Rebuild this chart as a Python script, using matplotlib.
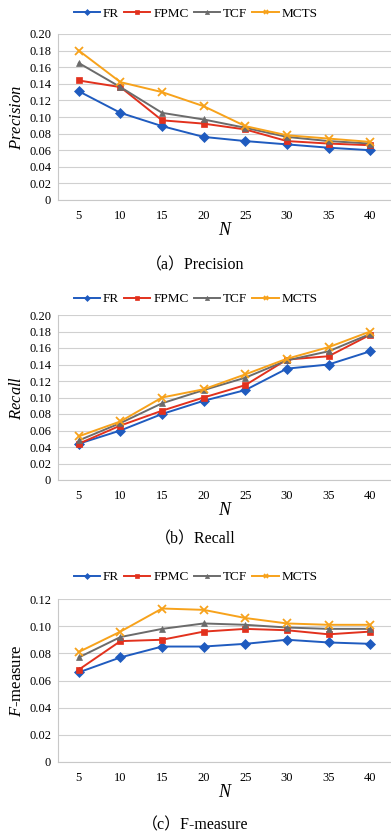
import numpy as np
import matplotlib.pyplot as plt

N = [5, 10, 15, 20, 25, 30, 35, 40]
metodos = ['FR', 'FPMC', 'TCF', 'MCTS']

precision_fr = [0.131, 0.105, 0.089, 0.076, 0.071, 0.067, 0.063, 0.060]
precision_fpmc = [0.144, 0.136, 0.096, 0.092, 0.085, 0.071, 0.068, 0.066]
precision_tcf = [0.165, 0.136, 0.105, 0.097, 0.087, 0.076, 0.071, 0.068]
precision_mcts = [0.180, 0.142, 0.130, 0.113, 0.089, 0.078, 0.074, 0.070]

recall_fr = [0.044, 0.060, 0.080, 0.096, 0.109, 0.135, 0.140, 0.156]
recall_fpmc = [0.044, 0.066, 0.084, 0.100, 0.115, 0.146, 0.150, 0.176]
recall_tcf = [0.048, 0.069, 0.093, 0.109, 0.124, 0.145, 0.156, 0.177]
recall_mcts = [0.053, 0.071, 0.100, 0.110, 0.128, 0.147, 0.161, 0.180]

fm_fr = [0.066, 0.077, 0.085, 0.085, 0.087, 0.090, 0.088, 0.087]
fm_fpmc = [0.068, 0.089, 0.090, 0.096, 0.098, 0.097, 0.094, 0.096]
fm_tcf = [0.077, 0.092, 0.098, 0.102, 0.101, 0.099, 0.098, 0.098]
fm_mcts = [0.081, 0.096, 0.113, 0.112, 0.106, 0.102, 0.101, 0.101]

colores = ['#1f5bbf', '#e2311d', '#6b6b6b', '#f7a21b']
marcadores = ['D', 's', '^', 'x']

serif = ['Liberation Serif', 'Noto Sans CJK SC']
plt.rcParams['font.family'] = serif
plt.rcParams['mathtext.fontset'] = 'custom'
plt.rcParams['mathtext.it'] = 'Liberation Serif:italic'
plt.rcParams['mathtext.rm'] = 'Liberation Serif'

W, H = 391, 836
fig = plt.figure(figsize=(W / 100, H / 100), dpi=100)


def panel(top, bottom, series, ymax, ylabel, caption, ycap, yleg):
    ax = fig.add_axes([58 / W, 1 - bottom / H, (391 - 58) / W, (bottom - top) / H])
    idx = np.arange(len(N))
    for i, s in enumerate(series):
        ms = 5 if marcadores[i] != 'x' else 6
        ax.plot(idx, s, color=colores[i], marker=marcadores[i], markersize=ms,
                linewidth=1.4, markeredgewidth=1.3 if marcadores[i] == 'x' else 0.5,
                label=metodos[i], clip_on=False)
    ax.set_xlim(-0.5, len(N) - 0.5)
    ax.set_ylim(0, ymax)
    ticks = np.arange(0, ymax + 0.001, 0.02)
    ax.set_yticks(ticks)
    ax.set_yticklabels(['0' if t == 0 else '%.2f' % t for t in ticks], fontsize=9)
    ax.set_xticks(idx)
    ax.set_xticklabels([str(n) for n in N], fontsize=9)
    ax.tick_params(length=0, pad=5)
    ax.tick_params(axis='x', pad=7)
    ax.grid(axis='y', color='#d0d0d0', linewidth=0.8)
    ax.set_axisbelow(True)
    for lado in ['top', 'right']:
        ax.spines[lado].set_visible(False)
    ax.spines['left'].set_color('#c8c8c8')
    ax.spines['bottom'].set_color('#c8c8c8')
    ax.set_ylabel(ylabel, fontsize=12, labelpad=3)
    ax.set_xlabel('N', fontsize=13, style='italic', labelpad=0)
    ax.legend(loc='center', bbox_to_anchor=(0.5, 1 - yleg / H), bbox_transform=fig.transFigure,
              ncol=4, frameon=False, fontsize=9.5, handlelength=2.0, columnspacing=0.4,
              handletextpad=0.2, markerscale=0.6)
    fig.text(0.5, 1 - ycap / H, caption, ha='center', va='center', fontsize=11.5)
    return ax


panel(34, 200, [precision_fr, precision_fpmc, precision_tcf, precision_mcts], 0.20,
      r'$Precision$', '（a）Precision', 265, 14)
panel(315, 480, [recall_fr, recall_fpmc, recall_tcf, recall_mcts], 0.20,
      r'$Recall$', '（b）Recall', 539, 299)
panel(599, 762, [fm_fr, fm_fpmc, fm_tcf, fm_mcts], 0.12,
      r'$F$-measure', '（c）F-measure', 825, 577)

fig.savefig('out.png', dpi=100)
